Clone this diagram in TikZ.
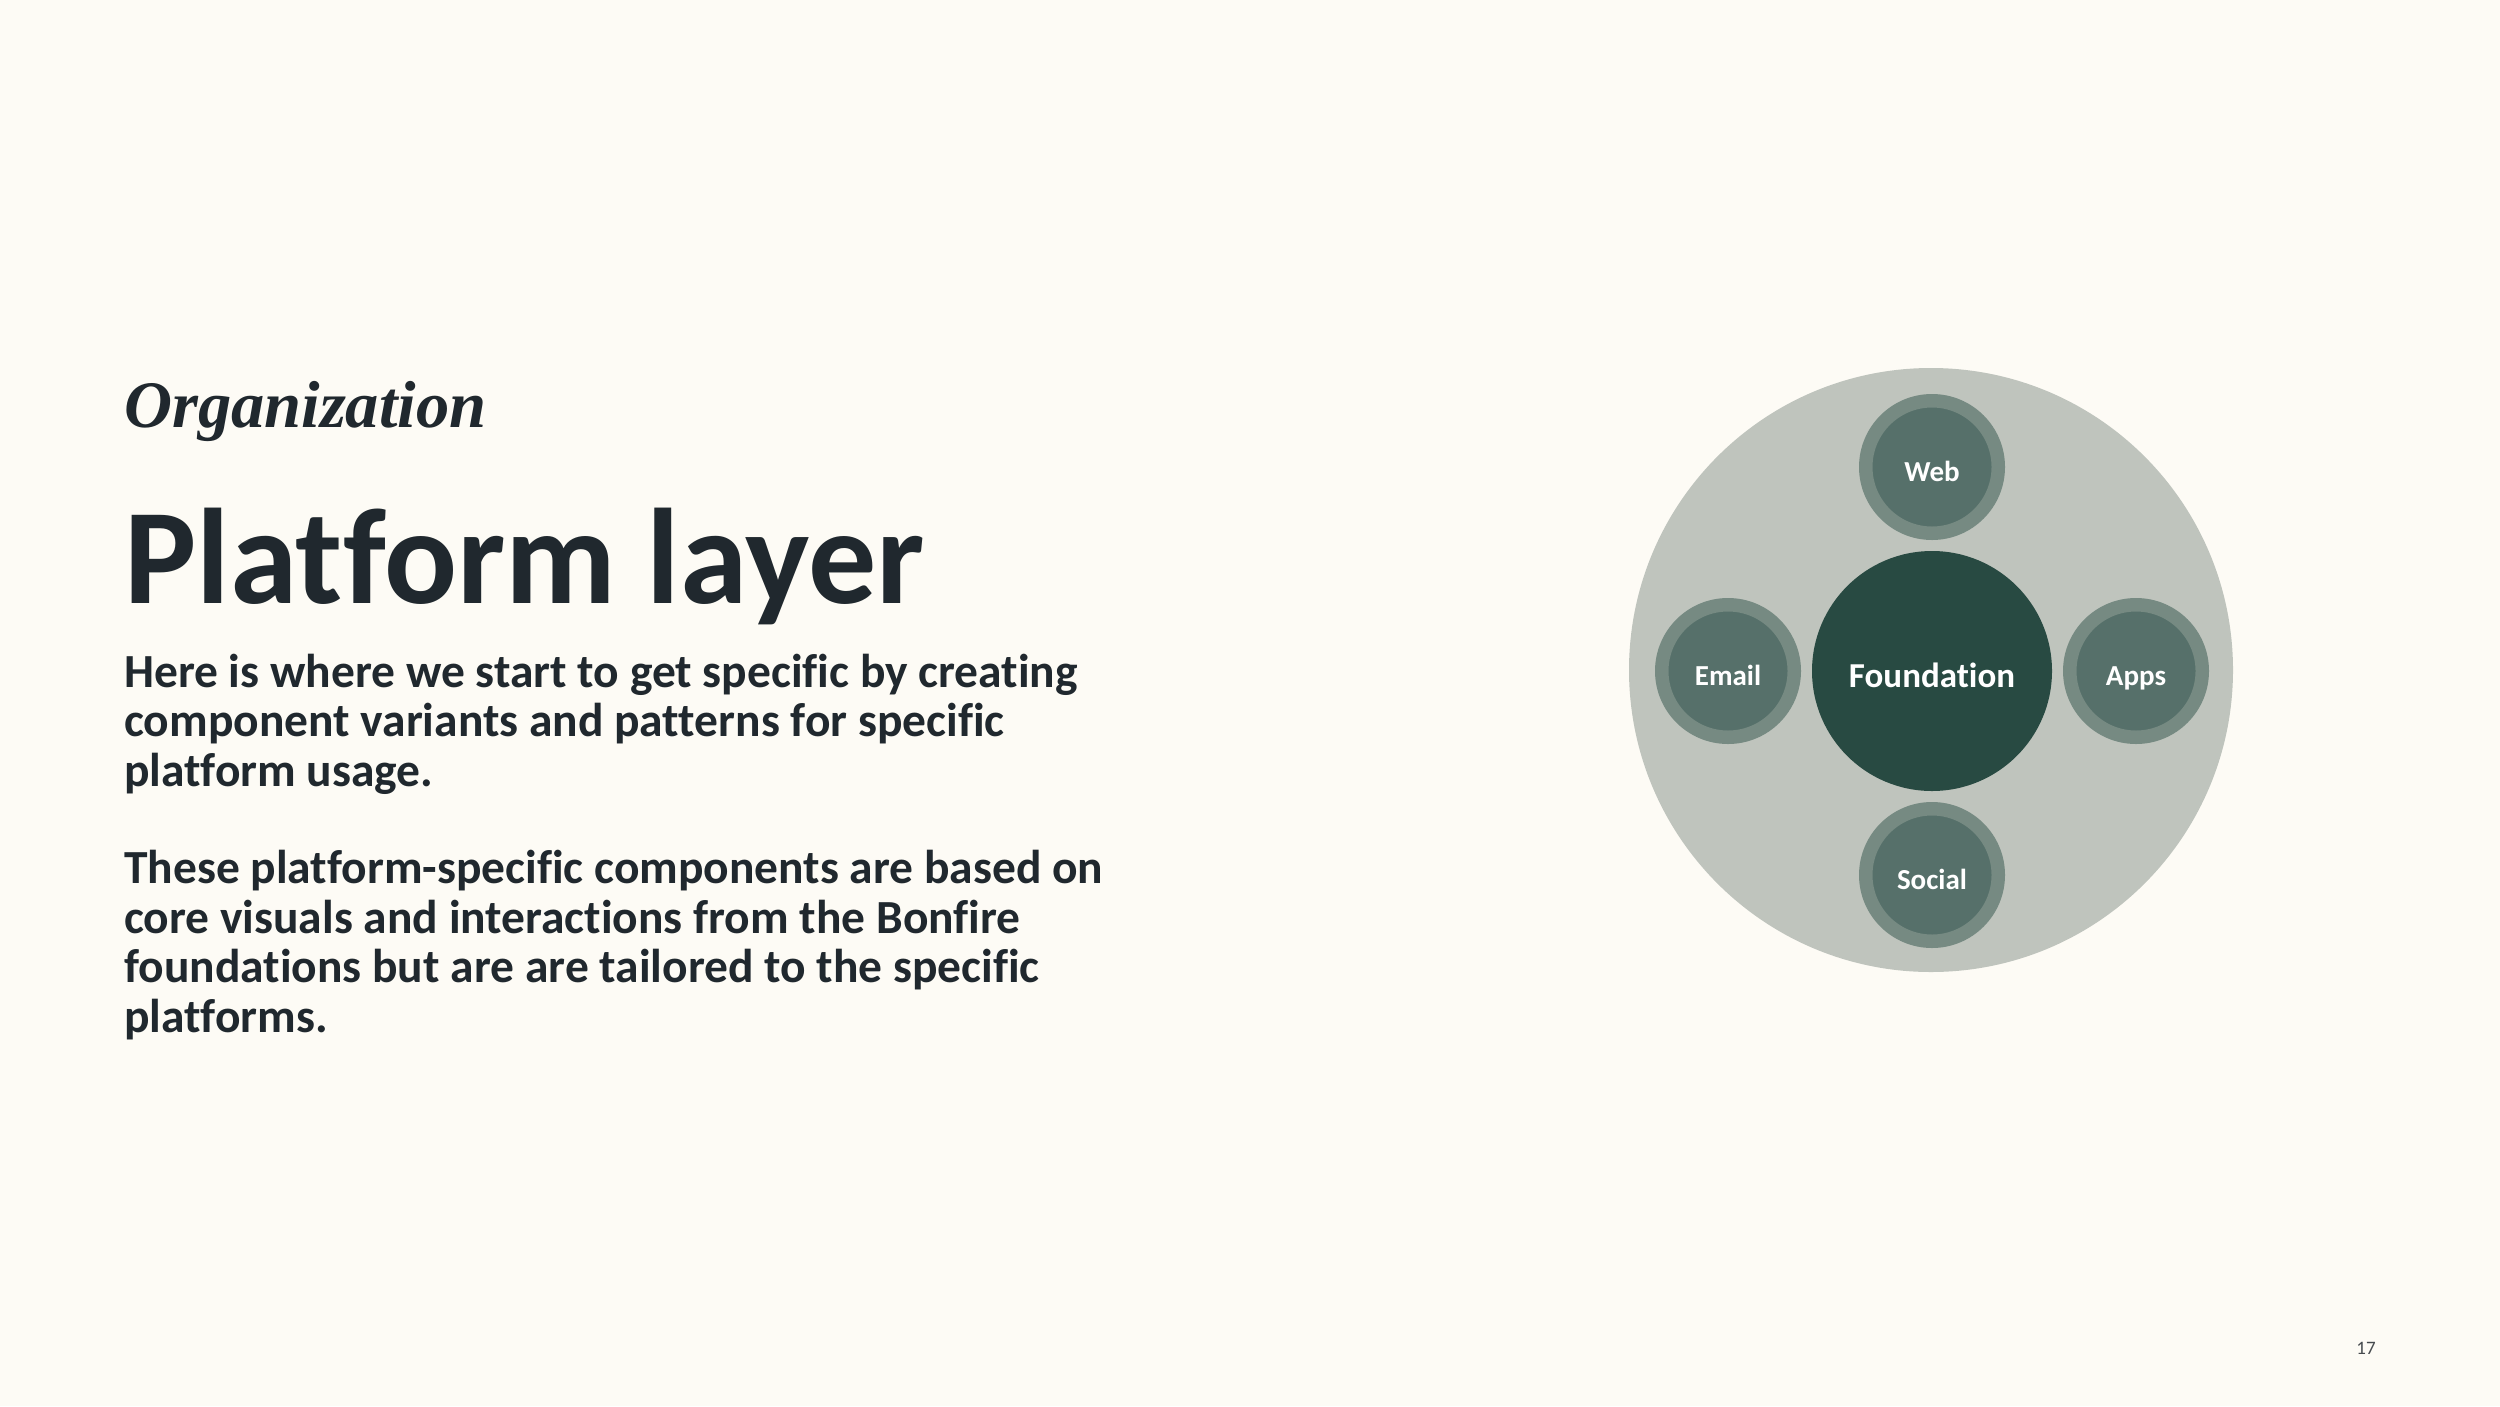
\documentclass[tikz,border=0pt]{standalone}
\usepackage{fontspec}
\setmainfont{Carlito}[RawFeature=-liga]
\newfontfamily\kickerfont{Liberation Serif}
\usetikzlibrary{positioning}
\definecolor{bgcol}{RGB}{253,251,245}
\definecolor{inkcol}{RGB}{32,40,46}
\definecolor{pagecol}{RGB}{70,74,78}
\definecolor{discol}{RGB}{191,196,189}
\definecolor{ringcol}{RGB}{118,138,130}
\definecolor{platcol}{RGB}{86,112,106}
\definecolor{foundcol}{RGB}{40,74,66}
\tikzstyle{kicker}=[anchor=base west, inner sep=0pt, text=inkcol, font=\kickerfont\bfseries\itshape\fontsize{66.5}{72}\selectfont]
\tikzstyle{headline}=[anchor=base west, inner sep=0pt, text=inkcol, font=\bfseries\fontsize{136}{150}\selectfont]
\tikzstyle{body}=[anchor=base west, inner sep=0pt, align=left, text=inkcol, font=\bfseries\fontsize{47.5}{49.4}\selectfont]
\tikzstyle{pagenum}=[anchor=base, inner sep=0pt, text=pagecol, font=\fontsize{19}{22}\selectfont]
\tikzstyle{disc}=[circle, fill=discol, minimum size=604pt, inner sep=0pt]
\tikzstyle{found}=[circle, fill=foundcol, minimum size=240pt, inner sep=0pt, text height=33pt, text depth=0pt, text=white, font=\bfseries\fontsize{35}{40}\selectfont]
\tikzstyle{platform}=[circle, draw=ringcol, fill=platcol, line width=13.5pt, minimum size=132.5pt, inner sep=0pt, text height=28pt, text depth=0pt, text=white, font=\bfseries\fontsize{29}{34}\selectfont]

\begin{document}
\begin{tikzpicture}[x=1pt,y=-1pt,node distance=204pt]
  \fill[bgcol] (0,0) rectangle (2500,1406);
  \node[kicker] (kick) at (124,427) {Organization};
  \node[headline] (head) at (124,603) {Platform layer};
  % base of a multi-line node sits under its last line
  \node[body] (intro) at (124,786) {Here is where we start to get specific by creating\\component variants and patterns for specific\\platform usage.};
  \node[body] (detail) at (124,1032) {These platform-specific components are based on\\core visuals and interactions from the Bonfire\\foundations but are are tailored to the specific\\platforms.};
  \node[pagenum] (page) at (2366,1354) {17};
  \node[disc] (layer) at (1931,670) {};
  \node[found] (found) at (1932,671) {Foundation};
  \node[platform] (web) [above of=found] {Web};
  \node[platform] (social) [below of=found] {Social};
  \node[platform] (email) [left of=found] {Email};
  \node[platform] (apps) [right of=found] {Apps};
\end{tikzpicture}
\end{document}
